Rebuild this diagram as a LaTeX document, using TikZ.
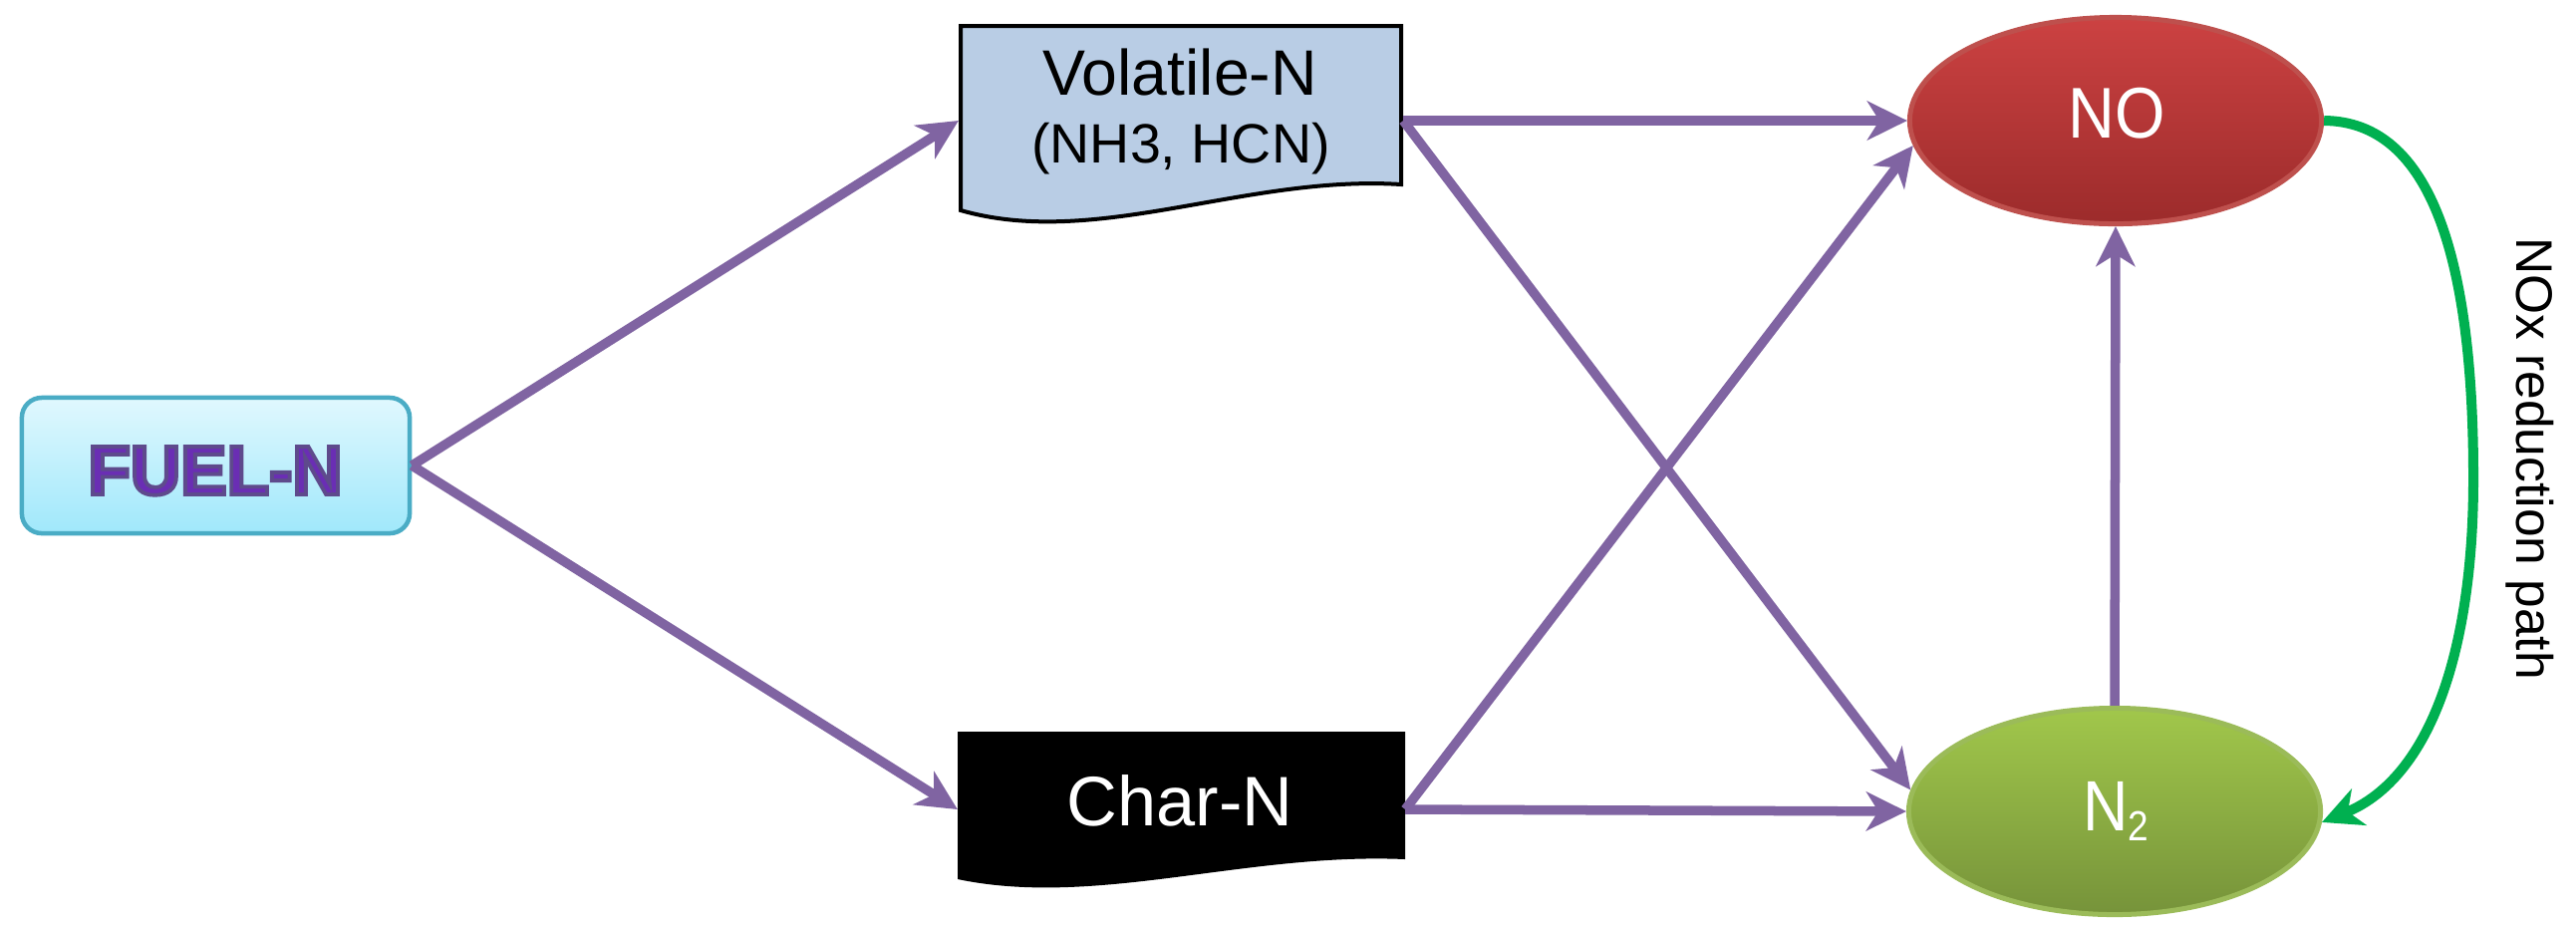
\documentclass[tikz,border=0pt]{standalone}
\usepackage{fontspec}
\setmainfont{Liberation Sans}
\usepackage{graphicx}
\usetikzlibrary{arrows.meta,shapes.geometric}
\definecolor{arrowpurple}{HTML}{8064A2}
\definecolor{fuelborder}{HTML}{4AACC5}
\definecolor{fueltop}{HTML}{E0F8FE}
\definecolor{fuelbottom}{HTML}{A0E8FB}
\definecolor{fueltext}{HTML}{6A2EB4}
\definecolor{volfill}{HTML}{B9CDE5}
\definecolor{notop}{HTML}{CC4242}
\definecolor{nobottom}{HTML}{9C2B2B}
\definecolor{noborder}{HTML}{BE504D}
\definecolor{ntop}{HTML}{A1C74B}
\definecolor{nbottom}{HTML}{76933A}
\definecolor{nborder}{HTML}{9BBB59}
\definecolor{redgreen}{HTML}{00B050}
\newcommand{\outlinedtext}[1]{\special{pdf:literal direct 2 Tr 1.1 w 0.37 0.29 0.55 RG}#1\special{pdf:literal direct 0 Tr}}
\begin{document}
\begin{tikzpicture}[x=0.01cm,y=-0.01cm,
  fuelbox/.style={rectangle, rounded corners=0.2cm, draw=fuelborder, line width=0.045cm,
    top color=fueltop, bottom color=fuelbottom, minimum width=3.89cm, minimum height=1.36cm, inner sep=0pt},
  anchorbox/.style={rectangle, inner sep=0pt, outer sep=0pt},
  oval/.style={ellipse, line width=0.05cm, minimum width=4.13cm, minimum height=2.07cm, inner sep=0pt},
  flow/.style={draw=arrowpurple, line width=0.095cm, -{Stealth[length=0.40cm,width=0.39cm,inset=0.12cm]}},
  reduce/.style={draw=redgreen, line width=0.10cm, -{Stealth[length=0.40cm,width=0.39cm,inset=0.12cm]}},
  txt/.style={anchor=base, inner sep=0pt}
]
\useasboundingbox (0,0) rectangle (2585,932);

% FUEL-N
\node[fuelbox] (fuel) at (216.5,467) {};
\node[txt, text=fueltext] (fueltxt) at (216,496) {\fontsize{19.8}{22}\selectfont\bfseries\outlinedtext{FUEL-N}};

% Volatile-N
\path[draw=black, fill=volfill, line width=0.04cm]
  (964,26) -- (1406,26) -- (1406,185) .. controls (1250,175) and (1100,250) .. (964,211) -- cycle;
\node[anchorbox, minimum width=4.46cm, minimum height=1.94cm] (vol) at (1185,121) {};
\node[txt] (voltxt1) at (1184,95) {\fontsize{18.3}{20}\selectfont Volatile-N};
\node[txt] (voltxt2) at (1185,163) {\fontsize{15.8}{18}\selectfont (NH3, HCN)};

% Char-N
\path[fill=black]
  (961,734) -- (1410,734) -- (1410,862) .. controls (1250,855) and (1100,911) .. (961,882) -- cycle;
\node[anchorbox, minimum width=4.49cm, minimum height=1.56cm] (char) at (1185.5,812) {};
\node[txt, text=white] (chartxt) at (1184,828) {\fontsize{20}{22}\selectfont Char-N};

% NO and N2
\node[oval, draw=noborder, top color=notop, bottom color=nobottom] (no) at (2123,121) {};
\node[txt, text=white] (notxt) at (2124,138) {\fontsize{20.5}{22}\selectfont\scalebox{0.9}[1]{NO}};
\node[oval, draw=nborder, top color=ntop, bottom color=nbottom] (n2) at (2122,814) {};
\node[txt, text=white] (n2txt) at (2123,833) {\fontsize{20.3}{22}\selectfont\scalebox{0.88}[1]{N\raisebox{-2.85pt}{\fontsize{12}{12}\selectfont 2}}};

% connectors
\draw[flow] (fuel.east) -- (vol.west);
\draw[flow] (fuel.east) -- (char.west);
\draw[flow] (vol.east) -- (no.west);
\draw[flow] (vol.east) -- (n2.174.6);
\draw[flow] (char.east) -- (no.187.8);
\draw[flow] (char.east) -- (n2.west);
\draw[flow] (n2.north) -- (no.south);
\draw[reduce] (no.east) .. controls (2440,122) and (2482,260) .. (2482,480)
  .. controls (2482,650) and (2440,780) .. (n2.-3);

\node[txt, rotate=-90] (label) at (2525,460) {\fontsize{14.65}{16}\selectfont NOx reduction path};
\end{tikzpicture}
\end{document}
